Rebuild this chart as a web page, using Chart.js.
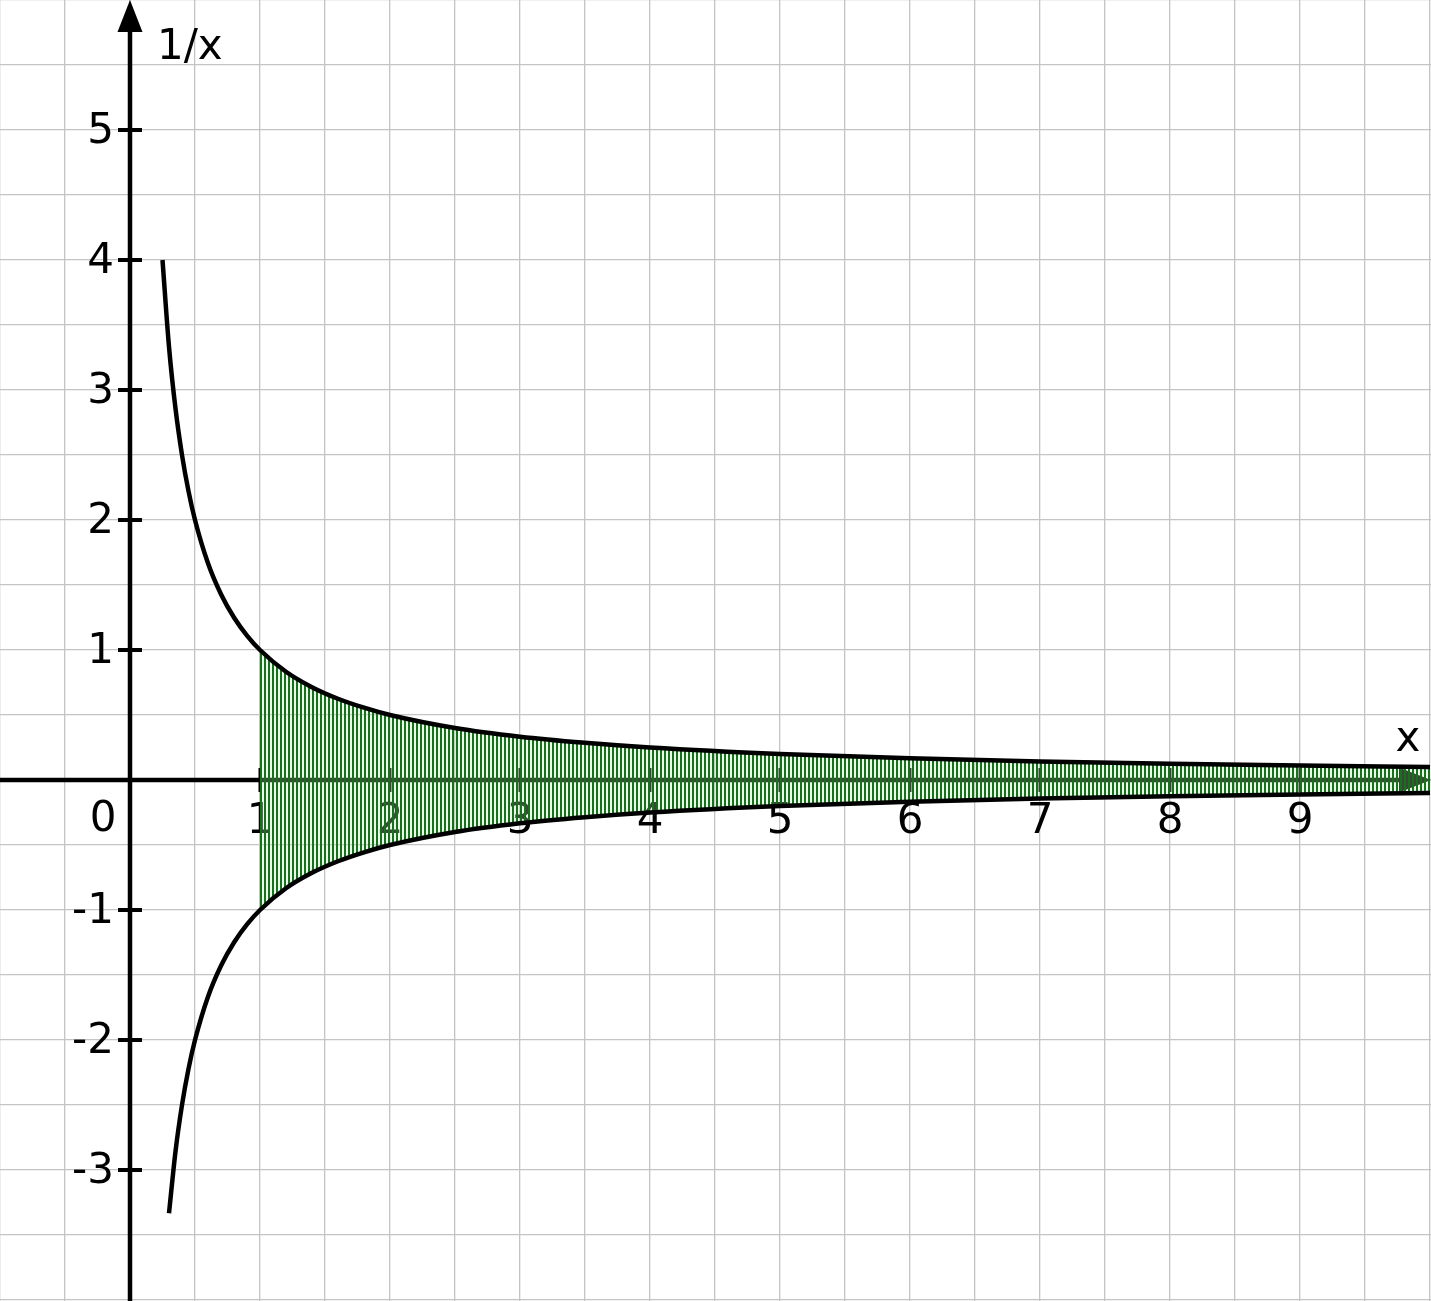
<!DOCTYPE html>
<html>
<head>
<meta charset="utf-8">
<script src="https://cdn.jsdelivr.net/npm/chart.js@4/dist/chart.umd.min.js"></script>
<style>
  html, body { margin: 0; padding: 0; background: #ffffff; overflow: hidden; }
  #wrap { width: 1431px; height: 1301px; position: relative; }
</style>
</head>
<body>
<div id="wrap"><canvas id="c" width="1431" height="1301"></canvas></div>
<script>
// ---- data ----
const curveX      = [0.25, 0.3, 0.35, 0.4, 0.45, 0.5, 0.6, 0.7, 0.8, 0.9, 1, 1.2, 1.4, 1.6, 1.8, 2, 2.5, 3, 3.5, 4, 5, 6, 7, 8, 9, 10];
const upperY      = [4, 3.333, 2.857, 2.5, 2.222, 2, 1.667, 1.429, 1.25, 1.111, 1, 0.833, 0.714, 0.625, 0.556, 0.5, 0.4, 0.333, 0.286, 0.25, 0.2, 0.167, 0.143, 0.125, 0.111, 0.1];
const lowerX      = [0.3, 0.35, 0.4, 0.45, 0.5, 0.6, 0.7, 0.8, 0.9, 1, 1.2, 1.4, 1.6, 1.8, 2, 2.5, 3, 3.5, 4, 5, 6, 7, 8, 9, 10];
const lowerY      = [-3.333, -2.857, -2.5, -2.222, -2, -1.667, -1.429, -1.25, -1.111, -1, -0.833, -0.714, -0.625, -0.556, -0.5, -0.4, -0.333, -0.286, -0.25, -0.2, -0.167, -0.143, -0.125, -0.111, -0.1];
const shadeX      = [1, 1.2, 1.4, 1.6, 1.8, 2, 2.5, 3, 3.5, 4, 5, 6, 7, 8, 9, 10];
const shadeTop    = [1, 0.833, 0.714, 0.625, 0.556, 0.5, 0.4, 0.333, 0.286, 0.25, 0.2, 0.167, 0.143, 0.125, 0.111, 0.1];
const shadeBottom = [-1, -0.833, -0.714, -0.625, -0.556, -0.5, -0.4, -0.333, -0.286, -0.25, -0.2, -0.167, -0.143, -0.125, -0.111, -0.1];
const xTickValues = [1, 2, 3, 4, 5, 6, 7, 8, 9];
const xTickLabels = ['1', '2', '3', '4', '5', '6', '7', '8', '9'];
const yTickValues = [5, 4, 3, 2, 1, -1, -2, -3];
const yTickLabels = ['5', '4', '3', '2', '1', '-1', '-2', '-3'];
const originLabel = '0';
const xAxisTitle = 'x';
const yAxisTitle = '1/x';
const gridStep = 0.5;
const xRange = [-1, 10.0077];
const yRange = [-4.0077, 6];

function pts(xs, ys) { return xs.map((x, i) => ({ x: x, y: ys[i] })); }

// hatch pattern: vertical dark green stripes
function makePattern() {
  const p = document.createElement('canvas');
  p.width = 4; p.height = 4;
  const g = p.getContext('2d');
  g.fillStyle = 'rgba(190,235,190,0.3)';
  g.fillRect(0, 0, 4, 4);
  g.fillStyle = '#17711a';
  g.fillRect(0, 0, 2, 4);
  return g.createPattern(p, 'repeat');
}

function gridTicks(min, max) {
  const out = [];
  for (let v = Math.ceil(min / gridStep) * gridStep; v <= max + 1e-9; v += gridStep) out.push({ value: Math.round(v * 100) / 100 });
  return out;
}

const FONT = '42px "DejaVu Sans", Verdana, sans-serif';

const axesPlugin = {
  id: 'axesPlugin',
  beforeDatasetsDraw(chart) {
    const ctx = chart.ctx;
    const xs = chart.scales.x, ys = chart.scales.y;
    const x0 = xs.getPixelForValue(0), y0 = ys.getPixelForValue(0);
    const right = xs.right, top = ys.top, bottom = ys.bottom, left = xs.left;
    ctx.save();
    ctx.strokeStyle = '#000';
    ctx.fillStyle = '#000';
    ctx.lineWidth = 4.5;
    // y axis
    ctx.beginPath(); ctx.moveTo(x0, bottom); ctx.lineTo(x0, top + 20); ctx.stroke();
    // x axis
    ctx.beginPath(); ctx.moveTo(left, y0); ctx.lineTo(right - 20, y0); ctx.stroke();
    // arrows
    ctx.beginPath(); ctx.moveTo(x0, top); ctx.lineTo(x0 - 12.5, top + 32); ctx.lineTo(x0 + 12.5, top + 32); ctx.closePath(); ctx.fill();
    ctx.beginPath(); ctx.moveTo(right, y0); ctx.lineTo(right - 32, y0 - 12.5); ctx.lineTo(right - 32, y0 + 12.5); ctx.closePath(); ctx.fill();
    // y ticks
    ctx.lineWidth = 4;
    yTickValues.forEach(v => {
      const py = ys.getPixelForValue(v);
      ctx.beginPath(); ctx.moveTo(x0 - 12, py); ctx.lineTo(x0 + 12, py); ctx.stroke();
    });
    // x ticks
    ctx.lineWidth = 3;
    xTickValues.forEach(v => {
      const px = xs.getPixelForValue(v);
      ctx.beginPath(); ctx.moveTo(px, y0 - 12); ctx.lineTo(px, y0 + 12); ctx.stroke();
    });
    // labels
    ctx.font = FONT;
    ctx.textBaseline = 'middle';
    ctx.textAlign = 'right';
    yTickValues.forEach((v, i) => {
      ctx.fillText(yTickLabels[i], x0 - 16, ys.getPixelForValue(v) + 2);
    });
    ctx.textAlign = 'center';
    xTickValues.forEach((v, i) => {
      ctx.fillText(xTickLabels[i], xs.getPixelForValue(v), y0 + 42);
    });
    ctx.fillText(originLabel, x0 - 27, y0 + 40);
    ctx.textAlign = 'left';
    ctx.fillText(yAxisTitle, x0 + 27, top + 48);
    ctx.textAlign = 'center';
    ctx.fillText(xAxisTitle, xs.getPixelForValue(9.83), y0 - 40);
    ctx.restore();
  }
};

const pattern = makePattern();

new Chart(document.getElementById('c'), {
  type: 'scatter',
  data: {
    datasets: [
      { data: pts(curveX, upperY), showLine: true, borderColor: '#000', borderWidth: 4.5, pointRadius: 0, fill: false, cubicInterpolationMode: 'monotone' },
      { data: pts(lowerX, lowerY), showLine: true, borderColor: '#000', borderWidth: 4.5, pointRadius: 0, fill: false, cubicInterpolationMode: 'monotone' },
      { data: pts(shadeX, shadeTop), showLine: true, borderWidth: 0, borderColor: 'rgba(0,0,0,0)', pointRadius: 0, fill: '+1', backgroundColor: pattern, cubicInterpolationMode: 'monotone' },
      { data: pts(shadeX, shadeBottom), showLine: true, borderWidth: 0, borderColor: 'rgba(0,0,0,0)', pointRadius: 0, fill: false, cubicInterpolationMode: 'monotone' }
    ]
  },
  options: {
    responsive: false,
    devicePixelRatio: 1,
    animation: false,
    layout: { padding: 0 },
    plugins: { legend: { display: false }, tooltip: { enabled: false } },
    events: [],
    scales: {
      x: {
        type: 'linear', min: xRange[0], max: xRange[1],
        afterBuildTicks: s => { s.ticks = gridTicks(xRange[0], xRange[1]); },
        ticks: { display: false },
        grid: { color: '#c4c4c4', lineWidth: 1.3, drawTicks: false },
        border: { display: false }
      },
      y: {
        type: 'linear', min: yRange[0], max: yRange[1],
        afterBuildTicks: s => { s.ticks = gridTicks(yRange[0], yRange[1]); },
        ticks: { display: false },
        grid: { color: '#c4c4c4', lineWidth: 1.3, drawTicks: false },
        border: { display: false }
      }
    }
  },
  plugins: [axesPlugin]
});
</script>
</body>
</html>
